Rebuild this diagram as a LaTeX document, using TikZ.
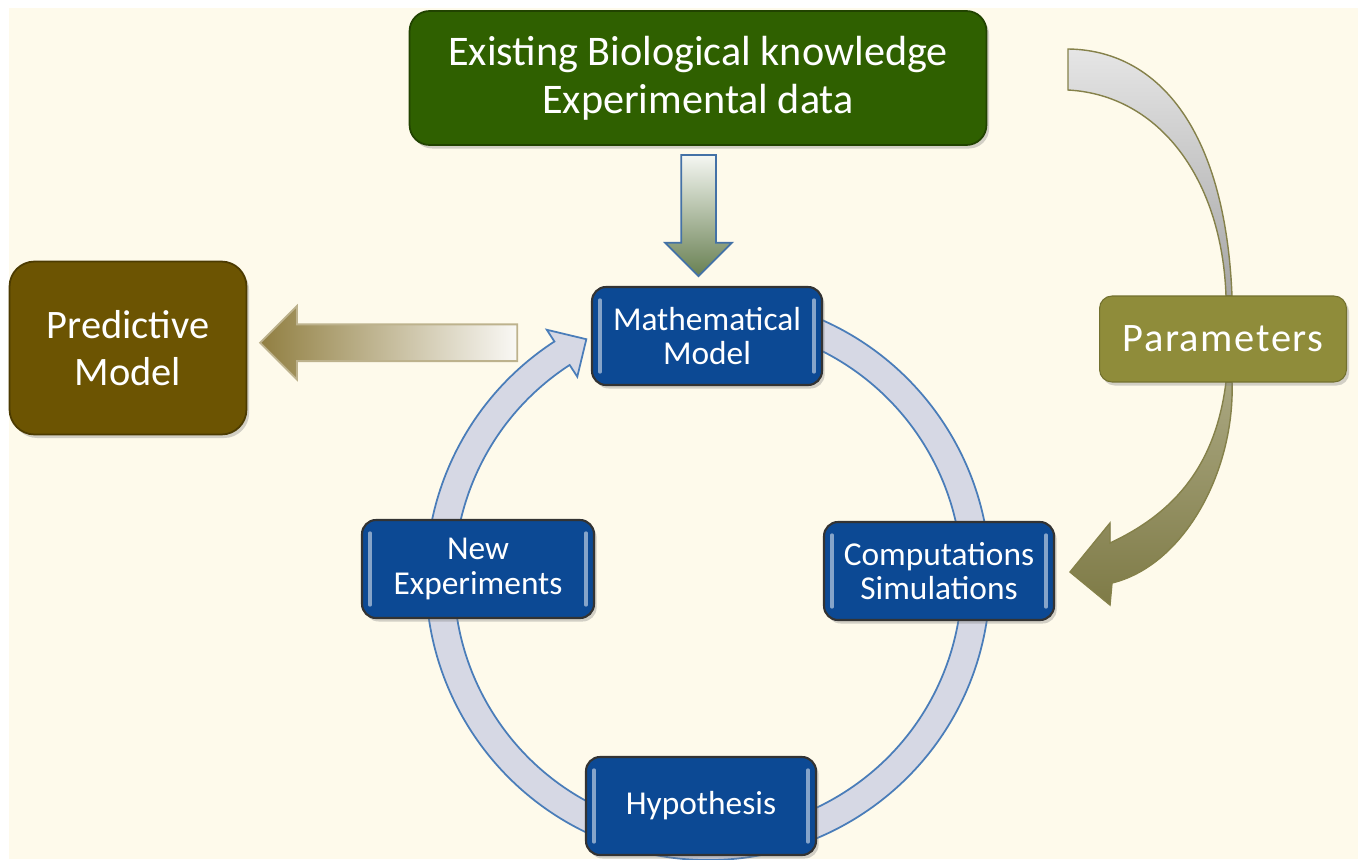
\documentclass[tikz,border=0pt]{standalone}
\usepackage{fontspec}
\setmainfont{Carlito}
\usetikzlibrary{positioning,calc,shapes.arrows,shadows}

\definecolor{bgcream}{RGB}{254,250,235}
\definecolor{boxblue}{RGB}{12,73,148}
\definecolor{biogreen}{RGB}{47,96,0}
\definecolor{predbrown}{RGB}{108,84,2}
\definecolor{paramolive}{RGB}{143,140,58}
\definecolor{ringfill}{RGB}{214,216,228}
\definecolor{ringline}{RGB}{74,125,185}
\definecolor{arrline}{RGB}{133,129,74}

\tikzset{
  softshadow/.style={drop shadow={opacity=0.35,shadow xshift=1.5pt,shadow yshift=-2pt}},
  stepbox/.style={rounded corners=0.28cm, draw=black!80, line width=1.2pt,
    fill=boxblue, text=white, align=center, inner sep=0pt,
    minimum width=4.6cm, minimum height=1.96cm,
    font=\fontsize{19}{19.5}\selectfont, softshadow},
  biobox/.style={rounded corners=0.4cm, draw=biogreen!70!black, line width=1pt,
    fill=biogreen, text=white, align=center, inner sep=0pt,
    minimum width=11.54cm, minimum height=2.68cm,
    font=\fontsize{24}{27.5}\selectfont, softshadow},
  predbox/.style={rounded corners=0.5cm, draw=predbrown!70!black, line width=1pt,
    fill=predbrown, text=white, align=center, inner sep=0pt,
    minimum width=4.74cm, minimum height=3.46cm,
    font=\fontsize{23}{26.5}\selectfont, softshadow},
  parambox/.style={rounded corners=0.25cm, draw=paramolive!80!black, line width=0.6pt,
    fill=paramolive, text=white, align=center, inner sep=0pt,
    minimum width=4.94cm, minimum height=1.72cm,
    font=\addfontfeatures{LetterSpace=4}\fontsize{23}{25}\selectfont, softshadow},
  downarr/.style={single arrow, shape border rotate=270, draw=ringline!90!black,
    line width=1pt, inner sep=0.33cm, minimum height=2.42cm,
    single arrow head extend=0.32cm, top color=white!95!biogreen,
    bottom color=biogreen!60!white!80!black},
  leftarr/.style={single arrow, shape border rotate=180, draw=predbrown!45!white,
    line width=1pt, inner xsep=0pt, inner ysep=0.35cm, minimum height=5.14cm,
    single arrow head extend=0.37cm, left color=predbrown!75!white,
    right color=white!96!predbrown}
}

\begin{document}
\begin{tikzpicture}[x=0.02cm,y=-0.02cm]
  \useasboundingbox (0,0) rectangle (1358,859);
  \fill[white] (0,0) rectangle (1358,859);
  \fill[bgcream] (9,8) rectangle (1358,859);

  % cycle ring
  \begin{scope}[shift={(708,578)}]
    \filldraw[fill=ringfill, draw=ringline, line width=1pt]
      (-80:282) arc[start angle=-80, end angle=237, radius=282]
      -- (237:296) -- (243:268) -- (237:240) -- (237:254)
      arc[start angle=237, end angle=-80, radius=254] -- cycle;
  \end{scope}

  % parameters arrow, upper and lower parts
  \filldraw[draw=arrline, line width=0.8pt, top color=black!10, bottom color=black!35]
    (1068,49) .. controls (1155,50) and (1225,125) .. (1232,296)
    -- (1226,296) .. controls (1222,180) and (1160,95) .. (1068,90) -- cycle;
  \filldraw[draw=arrline, line width=0.8pt, top color=arrline!70!white, bottom color=arrline!95!black]
    (1226,382) .. controls (1215,470) and (1170,515) .. (1110,543)
    -- (1110,523) -- (1070,572) -- (1110,605) -- (1112,583)
    .. controls (1185,565) and (1235,470) .. (1232,382) -- cycle;

  % boxes
  \node[biobox] (bio) at (698,78) {Existing Biological knowledge\\Experimental data};
  \node[predbox] (pm) at (128,348) {Predictive\\Model};
  \node[parambox] (pa) at (1223,339) {Parameters};
  \node[stepbox] (mm) at (707,336) {Mathematical\\Model};
  \node[stepbox] (cs) at (939,571) {Computations\\Simulations};
  \node[stepbox] (hy) at (701,806) {Hypothesis};
  \node[stepbox, minimum width=4.64cm] (ne) at (478,569) {New\\Experiments};

  \foreach \n in {mm,cs,hy,ne} {
    \draw[white!50!boxblue, line width=1.8pt, line cap=round]
      ($(\n.north west)+(9,14)$) -- ($(\n.south west)+(9,-14)$);
    \draw[white!50!boxblue, line width=1.8pt, line cap=round]
      ($(\n.north east)+(-9,14)$) -- ($(\n.south east)+(-9,-14)$);
  }

  % block arrows
  \node[downarr] (bioarr) at ($(bio.south)!0.5!(mm.north)+(-4,-9)$) {};
  \node[leftarr] (pmarr) at ($(pm.east)!0.438!(mm.west)$) {};
\end{tikzpicture}
\end{document}
